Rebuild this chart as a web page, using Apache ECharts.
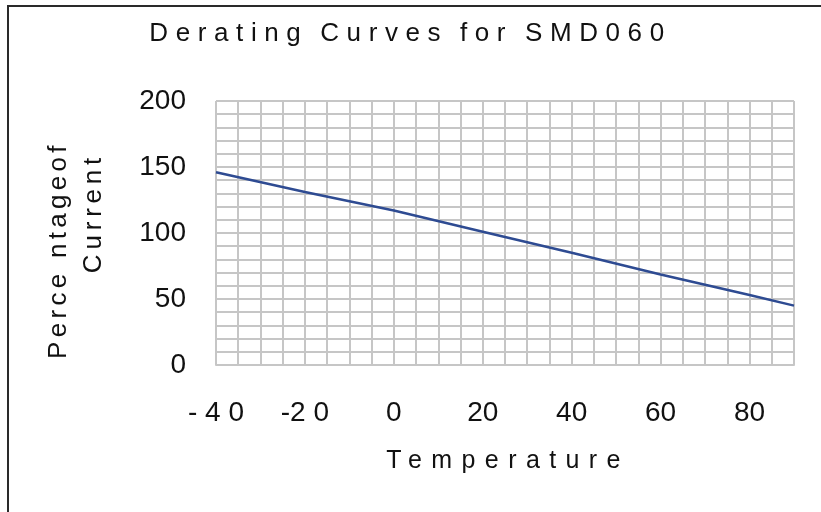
<!DOCTYPE html>
<html>
<head>
<meta charset="utf-8">
<script src="https://cdn.jsdelivr.net/npm/echarts@6/dist/echarts.min.js"></script>
<style>
  html, body { margin: 0; padding: 0; background: #ffffff; }
  #chart { width: 821px; height: 512px; }
</style>
</head>
<body>
<div id="chart"></div>
<script>
// ---- data ----
const temperatures = [-40, -20, 0, 20, 40, 60, 80, 90];
const currentPct = [146, 131, 117, 101, 85, 68.5, 53, 45];
const xTickValues = [-40, -20, 0, 20, 40, 60, 80];
const xTickLabels = ['- 4 0', '-2 0', '0', '20', '40', '60', '80'];
const yTickValues = [0, 50, 100, 150, 200];
const yTickLabels = ['0', '50', '100', '150', '200'];
const titleText = 'Derating Curves for SMD060';
const xName = 'Temperature';
const yNameLine1 = 'Perce ntageof';
const yNameLine2 = 'Current';

// letter / word spacing for the spaced-out texts (canvas text spacing)
const spacing = {};
spacing[titleText] = ['7.6px', '-3px'];
spacing[xName] = ['9.4px', '0px'];
spacing[yNameLine1] = ['4.3px', '0px'];
spacing[yNameLine2] = ['4.8px', '0px'];
(function () {
  const proto = CanvasRenderingContext2D.prototype;
  const orig = proto.fillText;
  proto.fillText = function (t, x, y, w) {
    const ls = spacing[t];
    if (ls && ('letterSpacing' in this)) {
      this.save();
      this.letterSpacing = ls[0];
      if ('wordSpacing' in this) { this.wordSpacing = ls[1]; }
      const r = w === undefined ? orig.call(this, t, x, y) : orig.call(this, t, x, y, w);
      this.restore();
      return r;
    }
    return w === undefined ? orig.call(this, t, x, y) : orig.call(this, t, x, y, w);
  };
})();

const FONT = "'Liberation Sans', Arial, sans-serif";
const gridColor = '#c6c6c6';

const chart = echarts.init(document.getElementById('chart'), null, { renderer: 'canvas' });
chart.setOption({
  animation: false,
  backgroundColor: '#ffffff',
  title: {
    text: titleText,
    left: 'center',
    top: 16,
    padding: [5, 5, 5, 12],
    textStyle: { fontFamily: FONT, fontSize: 26, fontWeight: 'normal', color: '#111' }
  },
  grid: { left: 216, right: 27, top: 101, bottom: 147 },
  xAxis: {
    type: 'value',
    min: -40,
    max: 90,
    interval: 5,
    name: xName,
    nameLocation: 'middle',
    nameGap: 84,
    nameTextStyle: { fontFamily: FONT, fontSize: 25, color: '#111', padding: [0, 0, 0, 6] },
    axisLine: { show: true, lineStyle: { color: gridColor, width: 2 } },
    axisTick: { show: false },
    axisLabel: {
      margin: 34,
      fontFamily: FONT, fontSize: 28, color: '#111',
      formatter: function (v) {
        const i = xTickValues.indexOf(v);
        return i >= 0 ? xTickLabels[i] : '';
      }
    },
    splitLine: { show: true, lineStyle: { color: gridColor, width: 2 } }
  },
  yAxis: [{
    type: 'value',
    min: 0,
    max: 200,
    interval: 10,
    name: yNameLine1,
    nameLocation: 'middle',
    nameGap: 144,
    nameRotate: 90,
    nameTextStyle: { fontFamily: FONT, fontSize: 26, color: '#111', padding: [0, 34, 0, 0] },
    axisLine: { show: true, lineStyle: { color: gridColor, width: 2 } },
    axisTick: { show: false },
    axisLabel: {
      margin: 30,
      fontFamily: FONT, fontSize: 28, color: '#111',
      formatter: function (v) {
        const i = yTickValues.indexOf(v);
        return i >= 0 ? yTickLabels[i] : '';
      }
    },
    splitLine: { show: true, lineStyle: { color: gridColor, width: 2 } }
  }, {
    type: 'value',
    min: 0,
    max: 200,
    interval: 10,
    position: 'left',
    name: yNameLine2,
    nameLocation: 'middle',
    nameGap: 109,
    nameRotate: 90,
    nameTextStyle: { fontFamily: FONT, fontSize: 26, color: '#111', padding: [0, 0, 0, 40] },
    axisLine: { show: false },
    axisTick: { show: false },
    axisLabel: { show: false },
    splitLine: { show: false }
  }],
  graphic: [{
    type: 'rect',
    silent: true,
    z: 100,
    shape: { x: 8, y: 6, width: 900, height: 700 },
    style: { fill: 'none', stroke: '#2a2a2a', lineWidth: 2 }
  }],
  series: [{
    type: 'line',
    xAxisIndex: 0,
    yAxisIndex: 0,
    data: temperatures.map(function (t, i) { return [t, currentPct[i]]; }),
    showSymbol: false,
    lineStyle: { color: '#2e4b92', width: 2.5 },
    itemStyle: { color: '#2e4b92' }
  }]
});
</script>
</body>
</html>
